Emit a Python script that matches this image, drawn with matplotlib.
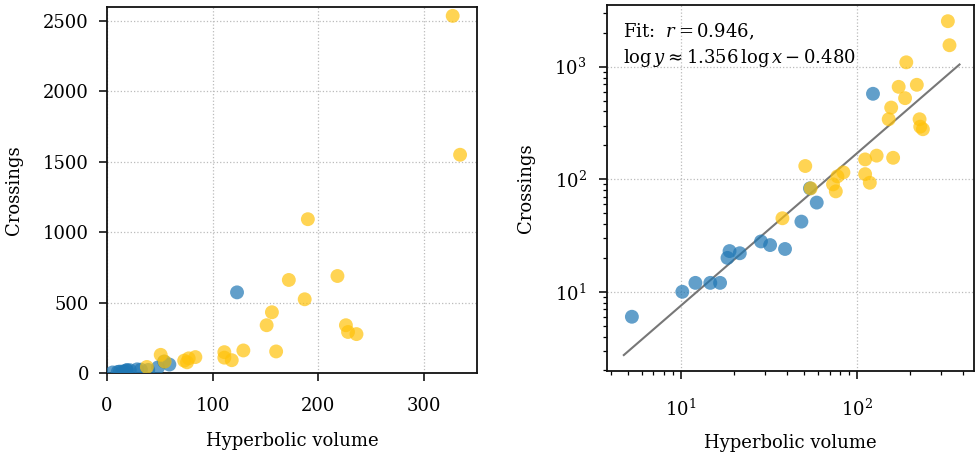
import numpy as np
import matplotlib
matplotlib.use("Agg")
import matplotlib.pyplot as plt

# ---- data ----
blue_volume = [5.28, 10.2, 12.1, 14.7, 16.7, 18.4, 18.9, 21.6, 28.5, 32.1, 39.0, 48.3, 59.0, 54.0, 123.0]
blue_crossings = [6, 10, 12, 12, 12, 20, 23, 22, 28, 26, 24, 42, 62, 83, 574]

yellow_volume = [327, 334, 190, 172, 218, 187, 156, 151, 226, 228, 236, 111, 129, 160,
                 111, 118, 50.8, 83.6, 77.3, 73.0, 75.7, 54.5, 37.7]
yellow_crossings = [2535, 1550, 1093, 662, 690, 525, 433, 341, 341, 293, 278, 150, 162, 155,
                    111, 93, 131, 115, 106, 90, 78, 83, 45]

fit_r = 0.946
fit_slope = 1.356
fit_intercept = -0.480

# ---- style ----
plt.rcParams['font.family'] = ['DejaVu Serif']
plt.rcParams['mathtext.fontset'] = 'dejavuserif'
plt.rcParams['font.size'] = 13

BLUE = '#1f77b4'
YELLOW = '#FFC20A'
ALPHA = 0.7
S = 100

fig = plt.figure(figsize=(9.76, 4.55), dpi=100)
W, H = 976, 455
ax1 = fig.add_axes([107 / W, (H - 373.3) / H, 370 / W, (373.3 - 6.7) / H])
ax2 = fig.add_axes([606.7 / W, (H - 370.7) / H, (974 - 606.7) / W, (370.7 - 5) / H])

for ax in (ax1, ax2):
    ax.scatter(blue_volume, blue_crossings, s=S, color=BLUE, alpha=ALPHA, edgecolors='none', zorder=3)
    ax.scatter(yellow_volume, yellow_crossings, s=S, color=YELLOW, alpha=ALPHA, edgecolors='none', zorder=3)
    ax.set_ylabel('Crossings', labelpad=14)
    ax.grid(True, which='major', linestyle=':', color='#bbbbbb', linewidth=0.9)
    ax.set_axisbelow(True)
    for sp in ax.spines.values():
        sp.set_linewidth(1.3)
        sp.set_color('#111111')
    ax.tick_params(which='major', direction='out', length=6, width=1.1, labelsize=13)
    ax.tick_params(which='minor', direction='out', length=3, width=0.9)

ax1.set_xlabel('Hyperbolic volume', labelpad=12)
ax2.set_xlabel('Hyperbolic volume', labelpad=10)
ax1.tick_params(axis='x', which='major', pad=11)
ax1.tick_params(axis='y', which='major', pad=7)
ax2.tick_params(axis='x', which='major', pad=14)
ax2.tick_params(axis='y', which='major', pad=8.5)

ax1.set_xlim(0, 350)
ax1.set_ylim(0, 2600)
ax1.set_xticks([0, 100, 200, 300])
ax1.set_yticks([0, 500, 1000, 1500, 2000, 2500])

ax2.set_xscale('log')
ax2.set_yscale('log')
all_x = np.array(blue_volume + yellow_volume, dtype=float)
xf = np.geomspace(all_x.min() * 0.9, all_x.max() * 1.14, 100)
yf = 10 ** (fit_slope * np.log10(xf) + fit_intercept)
ax2.plot(xf, yf, color='#777777', linewidth=1.5, zorder=2)
ax2.set_xlim(3.8, 460)
ax2.set_ylim(1.99, 3530)
ax2.text(0.045, 0.955,
         'Fit:  $r = %.3f$,\n$\\log y \\approx %.3f\\,\\log x - %.3f$' % (fit_r, fit_slope, -fit_intercept),
         transform=ax2.transAxes, ha='left', va='top', fontsize=13, linespacing=1.3)

fig.savefig('out.png', dpi=100)
